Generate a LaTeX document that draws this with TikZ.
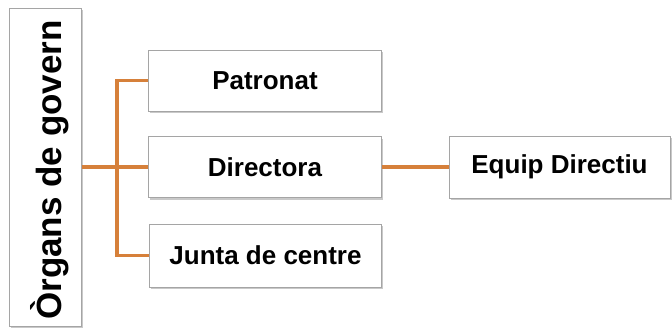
\documentclass[tikz,border=0pt]{standalone}
\usepackage{fontspec}
\setmainfont{Liberation Sans}
\usetikzlibrary{shadows}
\definecolor{linkorange}{RGB}{214,128,58}
\definecolor{boxgray}{RGB}{165,165,165}
\begin{document}
\begin{tikzpicture}[x=1pt, y=-1pt,
					box/.style = {draw=boxgray, fill=white, line width=1pt, rectangle, inner sep=0pt,
						drop shadow={shadow xshift=1.5pt, shadow yshift=-2pt, opacity=0.3, fill=black!70},
						font=\fontsize{26}{30}\selectfont\bfseries},
					link/.style={draw=linkorange, line width=3.5pt}]
					\useasboundingbox (0,0) rectangle (672,327);
					
					\node[box, minimum width=72pt, minimum height=318pt] (gov) at (45,167) {};
					\node[rotate=90, font=\fontsize{35}{40}\selectfont\bfseries] (govtext) at (50,170) {Òrgans de govern};
					
					\node[box, minimum width=233pt, minimum height=61pt] (pat) at (265,80.5) {Patronat};
					\node[box, minimum width=233pt, minimum height=61pt] (dir) at (265,167) {Directora};
					\node[box, minimum width=232pt, minimum height=63pt] (jun) at (265.5,255.5) {Junta de centre};
					\node[box, minimum width=221pt, minimum height=62pt] (equ) at (559.5,167) {Equip Directiu};
					
					\coordinate (trunk) at (117,167);
					
					\draw[link] (gov.east) -- (dir.west);
					\draw[link] (pat.west) -| (trunk) |- (jun.west);
					\draw[link] (dir.east) -- (equ.west);
				\end{tikzpicture}
\end{document}
